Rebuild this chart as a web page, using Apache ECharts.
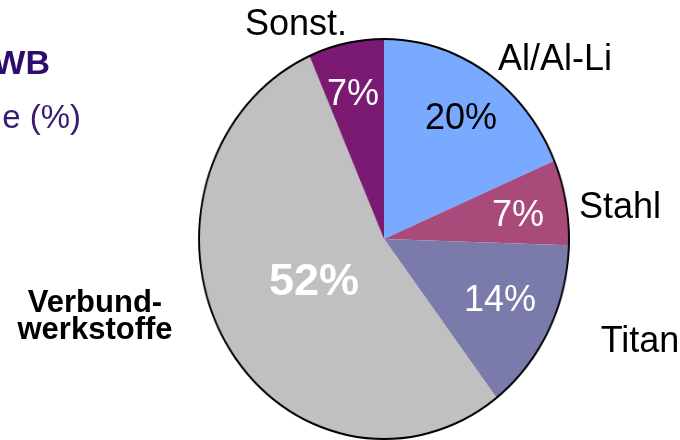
<!DOCTYPE html>
<html>
<head>
<meta charset="utf-8">
<script src="https://cdn.jsdelivr.net/npm/echarts@6/dist/echarts.min.js"></script>
<style>
  html, body { margin: 0; padding: 0; background: #ffffff; }
  #wrap { position: relative; width: 680px; height: 440px; overflow: hidden; }
  #pie { position: absolute; left: 0; top: 0; width: 680px; height: 440px; transform: scaleX(0.925); transform-origin: 384px 0; }
  #overlay { position: absolute; left: 0; top: 0; width: 680px; height: 440px; }
</style>
</head>
<body>
<div id="wrap">
  <div id="pie"></div>
  <div id="overlay"></div>
</div>
<script>
// ---- data ----
const categories = ['Al/Al-Li', 'Stahl', 'Titan', 'Verbund-\nwerkstoffe', 'Sonst.'];
const shares = [18.6, 6.9, 14.1, 53.8, 6.6];          // slice sizes as drawn
const shareLabels = ['20%', '7%', '14%', '52%', '7%']; // printed percentages
const titleFragments = ['WB', 'e (%)'];

// ---- styling / layout (kept separate from data) ----
const sliceColors = ['#79AAFF', '#A84B7A', '#7A7BAA', '#C0C0C0', '#7B1A73'];
const pctColors = ['#000000', '#ffffff', '#ffffff', '#ffffff', '#ffffff'];
const pctPos = [[461, 119], [518, 216], [500, 301], [314, 283], [353, 95]];
const namePos = [[555, 60], [620, 208], [640, 342], [95, 317], [296, 25]];
const FONT = 'Liberation Sans, Arial, Helvetica, sans-serif';
const CENTER = [384, 239];
const R = 200;

const pieData = categories.map((c, i) => ({ name: c, value: shares[i], itemStyle: { color: sliceColors[i] } }));

// Pie drawn in a horizontally squeezed layer (the reference pie is an ellipse)
const pie = echarts.init(document.getElementById('pie'), null, { renderer: 'canvas' });
pie.setOption({
  animation: false,
  series: [
    {
      type: 'pie', center: CENTER, radius: R, startAngle: 90, clockwise: true,
      data: pieData, label: { show: false }, labelLine: { show: false },
      itemStyle: { borderWidth: 0 }, emphasis: { disabled: true }, silent: true
    },
    {
      type: 'pie', center: CENTER, radius: [R - 1, R + 1], startAngle: 90,
      data: [{ value: 1, name: 'outline', itemStyle: { color: '#000000' } }],
      label: { show: false }, labelLine: { show: false }, emphasis: { disabled: true }, silent: true
    }
  ]
});

// Text layer (unsqueezed)
const overlay = echarts.init(document.getElementById('overlay'), null, { renderer: 'canvas' });
const transparentData = categories.map((c, i) => ({ name: c, value: shares[i], itemStyle: { color: 'rgba(0,0,0,0)' } }));

overlay.setOption({
  animation: false,
  graphic: [
    { type: 'text', x: 50, y: 65, style: { text: titleFragments[0], font: 'bold 34px ' + FONT, fill: '#2E0D6E', textAlign: 'right', textVerticalAlign: 'middle' } },
    { type: 'text', x: 81, y: 119, style: { text: titleFragments[1], font: '33px ' + FONT, fill: '#3A1A72', textAlign: 'right', textVerticalAlign: 'middle' } }
  ],
  series: [
    {
      type: 'pie', center: CENTER, radius: R, startAngle: 90, clockwise: true,
      data: transparentData.map((d, i) => Object.assign({}, d, {
        label: {
          formatter: shareLabels[i],
          color: pctColors[i],
          fontFamily: FONT,
          fontSize: i === 3 ? 45 : 36,
          fontWeight: i === 3 ? 'bold' : 'normal'
        }
      })),
      label: { show: true, position: 'inside' },
      labelLine: { show: false },
      labelLayout: (p) => ({ x: pctPos[p.dataIndex][0], y: pctPos[p.dataIndex][1], align: 'center', verticalAlign: 'middle' }),
      avoidLabelOverlap: false, emphasis: { disabled: true }, silent: true
    },
    {
      type: 'pie', center: CENTER, radius: R, startAngle: 90, clockwise: true,
      data: transparentData.map((d, i) => Object.assign({}, d, {
        label: {
          formatter: '{b}',
          color: '#000000',
          fontFamily: FONT,
          fontSize: i === 3 ? 31 : 36,
          fontWeight: i === 3 ? 'bold' : 'normal',
          lineHeight: i === 3 ? 27 : 40,
          align: 'center'
        }
      })),
      label: { show: true, position: 'inside' },
      labelLine: { show: false },
      labelLayout: (p) => ({ x: namePos[p.dataIndex][0], y: namePos[p.dataIndex][1], align: 'center', verticalAlign: 'middle' }),
      avoidLabelOverlap: false, emphasis: { disabled: true }, silent: true
    }
  ]
});
</script>
</body>
</html>
